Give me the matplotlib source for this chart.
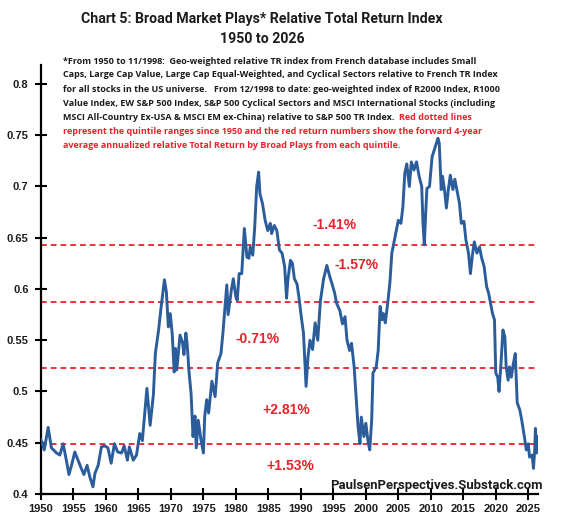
import matplotlib
matplotlib.use("Agg")
import matplotlib.pyplot as plt
import numpy as np

# ---------------- data ----------------
years = [1950.0, 1950.5, 1951.1, 1951.6, 1952.4, 1952.9, 1953.4, 1953.9, 1954.3, 1954.7,
         1955.2, 1955.7, 1956.2, 1956.6, 1957.1, 1957.5, 1958.0, 1958.3, 1958.8, 1959.3,
         1959.8, 1960.3, 1960.8, 1961.3, 1961.8, 1962.4, 1962.8, 1963.3, 1963.6, 1964.2,
         1964.7, 1965.2, 1965.6, 1966.3, 1966.8, 1967.3, 1967.6, 1968.1, 1968.5, 1969.0,
         1969.3, 1969.6, 1969.9, 1970.2, 1970.5, 1970.7, 1970.9, 1971.4, 1971.8, 1972.0,
         1972.3, 1972.5, 1972.8, 1973.1, 1973.4, 1973.7, 1973.9, 1974.2, 1974.6, 1975.0,
         1975.2, 1975.5, 1975.8, 1976.3, 1976.8, 1977.2, 1977.7, 1978.0, 1978.6, 1978.8,
         1979.3, 1979.6, 1980.0, 1980.2, 1980.5, 1980.9, 1981.3, 1981.7, 1982.0, 1982.2,
         1982.6, 1982.9, 1983.2, 1983.5, 1983.7, 1984.1, 1984.5, 1984.9, 1985.3, 1985.5,
         1985.9, 1986.3, 1986.7, 1987.1, 1987.5, 1987.8, 1988.0, 1988.4, 1988.7, 1989.0,
         1989.4, 1989.7, 1990.0, 1990.4, 1990.8, 1991.1, 1991.4, 1991.8, 1992.2, 1992.6,
         1993.0, 1993.5, 1994.0, 1994.4, 1994.8, 1995.2, 1995.5, 1996.0, 1996.4, 1996.8,
         1997.1, 1997.5, 1997.8, 1998.2, 1998.5, 1998.8, 1999.1, 1999.3, 1999.7, 2000.0,
         2000.3, 2000.6, 2000.9, 2001.1, 2001.6, 2001.9, 2002.2, 2002.5, 2002.7, 2003.0,
         2003.4, 2003.7, 2004.0, 2004.5, 2005.0, 2005.4, 2005.7, 2006.0, 2006.3, 2006.7,
         2007.0, 2007.4, 2007.8, 2008.2, 2008.6, 2008.8, 2009.0, 2009.2, 2009.4, 2009.8,
         2010.2, 2010.6, 2011.1, 2011.3, 2011.6, 2011.8, 2012.1, 2012.4, 2012.7, 2013.0,
         2013.4, 2013.7, 2014.1, 2014.4, 2014.7, 2015.1, 2015.4, 2015.8, 2016.1, 2016.4,
         2016.7, 2017.1, 2017.5, 2017.8, 2018.2, 2018.6, 2018.9, 2019.2, 2019.5, 2019.8,
         2020.0, 2020.3, 2020.5, 2020.8, 2021.1, 2021.4, 2021.6, 2021.9, 2022.1, 2022.4,
         2022.7, 2023.0, 2023.3, 2023.7, 2024.0, 2024.4, 2024.7, 2025.0, 2025.2, 2025.6,
         2025.8, 2026.0, 2026.1, 2026.3, 2026.5]
index_vals = [0.453, 0.443, 0.465, 0.445, 0.440, 0.438, 0.449, 0.433, 0.419, 0.428,
              0.441, 0.433, 0.425, 0.419, 0.428, 0.417, 0.407, 0.420, 0.428, 0.446,
              0.447, 0.445, 0.430, 0.449, 0.441, 0.440, 0.447, 0.433, 0.446, 0.433,
              0.438, 0.459, 0.452, 0.503, 0.467, 0.497, 0.537, 0.560, 0.583, 0.609,
              0.597, 0.563, 0.576, 0.556, 0.519, 0.542, 0.521, 0.555, 0.547, 0.536,
              0.557, 0.546, 0.518, 0.498, 0.456, 0.476, 0.445, 0.472, 0.454, 0.440,
              0.476, 0.492, 0.479, 0.510, 0.495, 0.528, 0.537, 0.557, 0.604, 0.575,
              0.599, 0.610, 0.592, 0.589, 0.615, 0.615, 0.659, 0.631, 0.630, 0.641,
              0.633, 0.661, 0.700, 0.714, 0.693, 0.683, 0.667, 0.657, 0.664, 0.654,
              0.662, 0.657, 0.638, 0.635, 0.622, 0.591, 0.609, 0.628, 0.625, 0.610,
              0.605, 0.592, 0.576, 0.557, 0.505, 0.534, 0.550, 0.541, 0.567, 0.550,
              0.588, 0.610, 0.623, 0.613, 0.605, 0.596, 0.586, 0.579, 0.566, 0.573,
              0.550, 0.540, 0.547, 0.524, 0.495, 0.466, 0.449, 0.475, 0.456, 0.469,
              0.453, 0.443, 0.472, 0.518, 0.524, 0.540, 0.583, 0.570, 0.576, 0.567,
              0.588, 0.606, 0.635, 0.651, 0.667, 0.664, 0.680, 0.713, 0.722, 0.700,
              0.724, 0.716, 0.724, 0.710, 0.700, 0.664, 0.643, 0.672, 0.698, 0.700,
              0.729, 0.737, 0.747, 0.742, 0.697, 0.710, 0.697, 0.679, 0.697, 0.711,
              0.697, 0.707, 0.694, 0.684, 0.664, 0.666, 0.648, 0.635, 0.615, 0.633,
              0.646, 0.635, 0.641, 0.631, 0.622, 0.602, 0.596, 0.586, 0.576, 0.570,
              0.518, 0.514, 0.500, 0.527, 0.560, 0.553, 0.524, 0.511, 0.524, 0.514,
              0.527, 0.537, 0.489, 0.482, 0.472, 0.456, 0.443, 0.449, 0.436, 0.438,
              0.425, 0.443, 0.464, 0.440, 0.456]

quintile_levels = [0.643, 0.587, 0.5225, 0.449]
return_labels = ["-1.41%", "-1.57%", "-0.71%", "+2.81%", "+1.53%"]
label_years = [1995.2, 1998.6, 1983.4, 1987.7, 1988.3]
label_values = [0.662, 0.623, 0.551, 0.482, 0.427]

x_ticks = list(range(1950, 2026, 5))
y_ticks = [0.4, 0.45, 0.5, 0.55, 0.6, 0.65, 0.7, 0.75, 0.8]

title_lines = ["Chart 5: Broad Market Plays* Relative Total Return Index", "1950 to 2026"]
note_black = [
    "*From 1950 to 11/1998:  Geo-weighted relative TR index from French database includes Small",
    "Caps, Large Cap Value, Large Cap Equal-Weighted, and Cyclical Sectors relative to French TR Index",
    "for all stocks in the US universe.   From 12/1998 to date: geo-weighted index of R2000 Index, R1000",
    "Value Index, EW S&P 500 Index, S&P 500 Cyclical Sectors and MSCI International Stocks (including",
    "MSCI All-Country Ex-USA & MSCI EM ex-China) relative to S&P 500 TR Index.  ",
]
note_red_tail = "Red dotted lines"
note_red = [
    "represent the quintile ranges since 1950 and the red return numbers show the forward 4-year",
    "average annualized relative Total Return by Broad Plays from each quintile.",
]
watermark = "PaulsenPerspectives.Substack.com"

# ---------------- figure ----------------
W, H = 563, 525
fig = plt.figure(figsize=(W / 100, H / 100), dpi=100)
fig.patch.set_facecolor("white")
ax = fig.add_axes([41 / W, 1 - 494 / H, (538 - 41) / W, (494 - 65) / H])

BLUE = "#2b5d9b"
RED = "#e8222a"
TXT = "#1c1c1c"

ax.plot(years, index_vals, color=BLUE, lw=2.1, solid_joinstyle="round", zorder=3)
for lv in quintile_levels:
    ax.axhline(lv, color=RED, lw=1.3, dashes=(3.2, 2.2), zorder=2)
for lab, lx, ly in zip(return_labels, label_years, label_values):
    ax.text(lx, ly, lab, color=RED, fontsize=10, fontweight="bold",
            family="Liberation Sans", ha="center", va="center", zorder=4)

ax.set_xlim(1950, 2026.5)
ax.set_ylim(0.4, 0.8185)
ax.set_xticks(x_ticks)
ax.set_yticks(y_ticks)
ax.set_yticklabels(["%g" % v for v in y_ticks])
for s in ["top", "right"]:
    ax.spines[s].set_visible(False)
for s in ["left", "bottom"]:
    ax.spines[s].set_linewidth(1.6)
    ax.spines[s].set_color("black")
ax.tick_params(axis="both", direction="inout", length=8, width=1.5, colors="black")
ax.tick_params(axis="y", pad=5)
ax.tick_params(axis="x", pad=3)
for lab in ax.get_xticklabels() + ax.get_yticklabels():
    lab.set_fontfamily("Liberation Sans")
    lab.set_fontweight("bold")
    lab.set_fontsize(8)
    lab.set_color(TXT)

renderer = fig.canvas.get_renderer()

def fit(t, target_w):
    w = t.get_window_extent(renderer).width
    t.set_fontsize(t.get_fontsize() * target_w / w)

def fx(px):
    return px / W

def fy(py):
    return 1 - py / H

# title
t1 = fig.text(fx(262), fy(18.5), title_lines[0], ha="center", va="center",
              family="Roboto", fontweight="bold", fontsize=12, color=TXT)
fit(t1, 360)
t2 = fig.text(fx(262), fy(39), title_lines[1], ha="center", va="center",
              family="Roboto", fontweight="bold", fontsize=t1.get_fontsize(), color=TXT)

# note
NOTE_FONT = "Open Sans"
note_y = [61, 75, 89, 103, 117, 131, 145]
probe = fig.text(fx(63), fy(75), note_black[1], ha="left", va="center",
                 family=NOTE_FONT, fontweight="bold", fontsize=7, color=TXT)
fit(probe, 437)
fs_note = probe.get_fontsize()
probe.remove()
last_black = None
for i, line in enumerate(note_black):
    last_black = fig.text(fx(63), fy(note_y[i]), line, ha="left", va="center",
                          family=NOTE_FONT, fontweight="bold", fontsize=fs_note, color=TXT)
fig.canvas.draw()
bb = last_black.get_window_extent(renderer)
fig.text(bb.x1 / W, fy(note_y[4]), note_red_tail, ha="left", va="center",
         family=NOTE_FONT, fontweight="bold", fontsize=fs_note, color=RED)
for j, line in enumerate(note_red):
    fig.text(fx(63), fy(note_y[5 + j]), line, ha="left", va="center",
             family=NOTE_FONT, fontweight="bold", fontsize=fs_note, color=RED)

# watermark
wm = fig.text(fx(330), fy(486), watermark, ha="left", va="center",
              family="Roboto", fontweight="bold", fontsize=9, color=TXT)
fit(wm, 213)

fig.savefig("out.png", dpi=100, facecolor="white")
